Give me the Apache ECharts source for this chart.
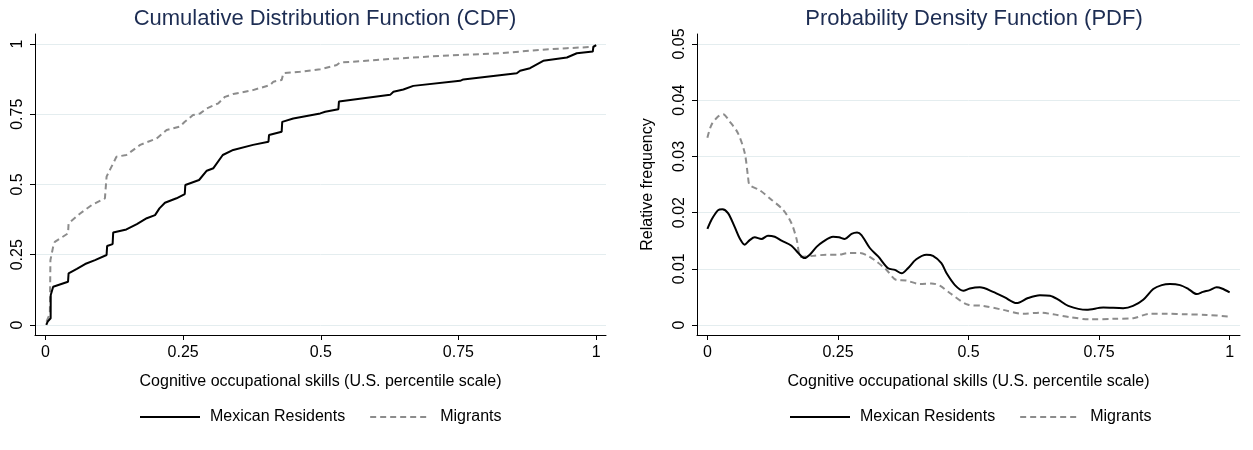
<!DOCTYPE html>
<html>
<head>
<meta charset="utf-8">
<script src="https://cdn.jsdelivr.net/npm/echarts@6/dist/echarts.min.js"></script>
<style>
  html, body { margin: 0; padding: 0; background: #fff; }
  #chart { width: 1253px; height: 450px; }
</style>
</head>
<body>
<div id="chart"></div>
<script>
// Series names and tick values
const seriesNames = ['Mexican Residents', 'Migrants'];
const xTicks = [0, 0.25, 0.5, 0.75, 1];
const cdfTicks = [0, 0.25, 0.5, 0.75, 1];
const pdfTicks = [0, 0.01, 0.02, 0.03, 0.04, 0.05];

// Empirical CDF, Mexican residents: [skill percentile, cumulative share]
const cdfResidents = [
  [0.0015, 0], [0.004, 0.012], [0.0094, 0.024], [0.0096, 0.107], [0.014, 0.136],
  [0.041, 0.154], [0.042, 0.184], [0.057, 0.20], [0.072, 0.217], [0.09, 0.231],
  [0.111, 0.249], [0.112, 0.281], [0.122, 0.288], [0.123, 0.329], [0.147, 0.34],
  [0.166, 0.359], [0.184, 0.38], [0.199, 0.391], [0.207, 0.415], [0.217, 0.435],
  [0.238, 0.451], [0.253, 0.466], [0.254, 0.498], [0.279, 0.516], [0.293, 0.549],
  [0.305, 0.558], [0.322, 0.605], [0.341, 0.623], [0.377, 0.641], [0.405, 0.652],
  [0.406, 0.676], [0.429, 0.688], [0.43, 0.723], [0.45, 0.735], [0.499, 0.753],
  [0.508, 0.759], [0.532, 0.768], [0.533, 0.795], [0.626, 0.819], [0.632, 0.83],
  [0.65, 0.838], [0.668, 0.851], [0.753, 0.869], [0.759, 0.874], [0.856, 0.896],
  [0.862, 0.905], [0.88, 0.914], [0.904, 0.94], [0.947, 0.952], [0.965, 0.967],
  [0.994, 0.973], [0.995, 0.99], [1.0, 0.996]
];

// Empirical CDF, migrants
const cdfMigrants = [
  [0.002, 0.012], [0.008, 0.041], [0.009, 0.231], [0.014, 0.279], [0.017, 0.296],
  [0.041, 0.326], [0.042, 0.362], [0.063, 0.397], [0.084, 0.427], [0.108, 0.451],
  [0.111, 0.528], [0.117, 0.552], [0.126, 0.587], [0.129, 0.599], [0.147, 0.605],
  [0.172, 0.641], [0.202, 0.664], [0.22, 0.694], [0.244, 0.706], [0.253, 0.723],
  [0.268, 0.747], [0.281, 0.753], [0.293, 0.771], [0.314, 0.789], [0.326, 0.812],
  [0.341, 0.822], [0.377, 0.836], [0.408, 0.854], [0.414, 0.866], [0.429, 0.872],
  [0.432, 0.896], [0.462, 0.901], [0.499, 0.91], [0.529, 0.925], [0.535, 0.934],
  [0.644, 0.949], [0.717, 0.958], [0.826, 0.967], [0.898, 0.979], [0.947, 0.985],
  [0.995, 0.99], [1.0, 0.996]
];

// Kernel density, Mexican residents: [skill percentile, density]
const pdfResidents = [
  [0, 0.0171], [0.0077, 0.0187], [0.020, 0.0204], [0.0287, 0.0206], [0.0395, 0.0199],
  [0.052, 0.0175], [0.062, 0.0154], [0.0715, 0.0143], [0.081, 0.0151], [0.0906, 0.0156],
  [0.1034, 0.0153], [0.116, 0.0159], [0.129, 0.0157], [0.142, 0.015], [0.161, 0.0141],
  [0.174, 0.0128], [0.186, 0.0119], [0.196, 0.0125], [0.209, 0.0139], [0.221, 0.0148],
  [0.2406, 0.0157], [0.252, 0.0156], [0.263, 0.0153], [0.276, 0.0162], [0.2866, 0.01645],
  [0.295, 0.016], [0.311, 0.0137], [0.327, 0.0122], [0.346, 0.0101], [0.359, 0.0098],
  [0.372, 0.0092], [0.384, 0.0101], [0.400, 0.0117], [0.4195, 0.0125], [0.432, 0.0123],
  [0.448, 0.011], [0.458, 0.0092], [0.474, 0.0071], [0.49, 0.0061], [0.5025, 0.0065],
  [0.5216, 0.0067], [0.547, 0.0059], [0.5695, 0.0049], [0.592, 0.0039], [0.614, 0.0048],
  [0.6366, 0.0053], [0.656, 0.0052], [0.672, 0.0045], [0.691, 0.0034], [0.726, 0.0027],
  [0.758, 0.0031], [0.796, 0.0030], [0.815, 0.0034], [0.8345, 0.0045], [0.8537, 0.0064],
  [0.87, 0.0071], [0.8856, 0.0073], [0.905, 0.0071], [0.921, 0.0064], [0.937, 0.0055],
  [0.949, 0.0059], [0.962, 0.0062], [0.975, 0.0067], [0.985, 0.0065], [1.0, 0.0058]
];

// Kernel density, migrants
const pdfMigrants = [
  [0, 0.0333], [0.0077, 0.0356], [0.0204, 0.0371], [0.030, 0.0375], [0.0427, 0.0362],
  [0.0587, 0.0341], [0.0715, 0.0306], [0.0778, 0.0264], [0.081, 0.0249], [0.100, 0.024],
  [0.1226, 0.0223], [0.1449, 0.0205], [0.161, 0.0181], [0.1705, 0.0154], [0.180, 0.0121],
  [0.2023, 0.0123], [0.228, 0.0125], [0.250, 0.0125], [0.2694, 0.0128], [0.2918, 0.0128],
  [0.3077, 0.0123], [0.3237, 0.0113], [0.343, 0.0098], [0.362, 0.008], [0.381, 0.0079],
  [0.4067, 0.0073], [0.429, 0.0074], [0.445, 0.007], [0.464, 0.0057], [0.4994, 0.0036],
  [0.528, 0.0034], [0.566, 0.0027], [0.6046, 0.002], [0.6366, 0.0022], [0.662, 0.0019],
  [0.694, 0.0014], [0.7324, 0.001], [0.777, 0.0011], [0.8154, 0.0012], [0.847, 0.002],
  [0.879, 0.002], [0.9176, 0.0019], [0.956, 0.0018], [1.0, 0.0015]
];

const FONT = "'Liberation Sans', Arial, Helvetica, sans-serif";
const GRID_COLOR = '#e4edef';
const RESIDENT_STYLE = { color: '#000000', width: 2, type: 'solid' };
const MIGRANT_STYLE = { color: '#8c8c8c', width: 2, type: [6, 4] };

function xAxisFor(gridIndex, min, max) {
  return {
    gridIndex, type: 'value', min, max,
    name: 'Cognitive occupational skills (U.S. percentile scale)',
    nameLocation: 'middle', nameGap: 39,
    nameTextStyle: { fontFamily: FONT, fontSize: 16, color: '#000' },
    axisLine: { show: true, onZero: false, lineStyle: { color: '#000', width: 1 } },
    axisTick: { show: true, length: 5, customValues: xTicks, lineStyle: { color: '#000' } },
    axisLabel: { customValues: xTicks, fontFamily: FONT, fontSize: 16, color: '#000', margin: 10,
                 formatter: v => String(+v.toFixed(4)) },
    splitLine: { show: false }
  };
}

function yAxisFor(gridIndex, min, max, ticks, name) {
  return {
    gridIndex, type: 'value', min, max,
    name: name || '', nameLocation: 'middle', nameGap: 41, nameRotate: 90,
    nameTextStyle: { fontFamily: FONT, fontSize: 16, color: '#000' },
    axisLine: { show: true, onZero: false, lineStyle: { color: '#000', width: 1 } },
    axisTick: { show: true, length: 5, customValues: ticks, lineStyle: { color: '#000' } },
    axisLabel: { customValues: ticks, rotate: 90, fontFamily: FONT, fontSize: 16, color: '#000', margin: 9,
                 formatter: v => String(+v.toFixed(4)) },
    splitLine: { show: true, lineStyle: { color: GRID_COLOR, width: 1 } }
  };
}

// Line-only legend keys (the marker dot is hidden)
function legendFor(leftX) {
  return {
    data: seriesNames,
    left: leftX, top: 409, padding: 0,
    itemWidth: 60, itemHeight: 14, itemGap: 24,
    itemStyle: { opacity: 0 },
    textStyle: { fontFamily: FONT, fontSize: 16, color: '#000', padding: [0, 0, 0, 5] },
    selectedMode: false
  };
}

const chart = echarts.init(document.getElementById('chart'), null, { renderer: 'canvas' });

chart.setOption({
  animation: false,
  backgroundColor: '#ffffff',
  title: [
    { text: 'Cumulative Distribution Function (CDF)', left: 320, top: 3, textAlign: 'center',
      textStyle: { fontFamily: FONT, fontSize: 22, fontWeight: 'normal', color: '#1d2d53' } },
    { text: 'Probability Density Function (PDF)', left: 969, top: 3, textAlign: 'center',
      textStyle: { fontFamily: FONT, fontSize: 22, fontWeight: 'normal', color: '#1d2d53' } }
  ],
  legend: [legendFor(139), legendFor(789)],
  grid: [
    { left: 35, top: 34, width: 571, height: 301, containLabel: false },
    { left: 697, top: 34, width: 543, height: 301, containLabel: false }
  ],
  xAxis: [
    xAxisFor(0, -0.019, 1.018),
    xAxisFor(1, -0.0199, 1.0198)
  ],
  yAxis: [
    yAxisFor(0, -0.0356, 1.0356, cdfTicks),
    yAxisFor(1, -0.00178, 0.05178, pdfTicks, 'Relative frequency')
  ],
  series: [
    { name: seriesNames[0], type: 'line', xAxisIndex: 0, yAxisIndex: 0, data: cdfResidents,
      symbol: 'none', lineStyle: RESIDENT_STYLE, itemStyle: { color: '#000' }, z: 3 },
    { name: seriesNames[1], type: 'line', xAxisIndex: 0, yAxisIndex: 0, data: cdfMigrants,
      symbol: 'none', lineStyle: MIGRANT_STYLE, itemStyle: { color: '#8c8c8c' }, z: 2 },
    { name: seriesNames[0], type: 'line', xAxisIndex: 1, yAxisIndex: 1, data: pdfResidents,
      symbol: 'none', smooth: 0.3, lineStyle: RESIDENT_STYLE, itemStyle: { color: '#000' }, z: 3 },
    { name: seriesNames[1], type: 'line', xAxisIndex: 1, yAxisIndex: 1, data: pdfMigrants,
      symbol: 'none', smooth: 0.3, lineStyle: MIGRANT_STYLE, itemStyle: { color: '#8c8c8c' }, z: 2 }
  ]
});
</script>
</body>
</html>
